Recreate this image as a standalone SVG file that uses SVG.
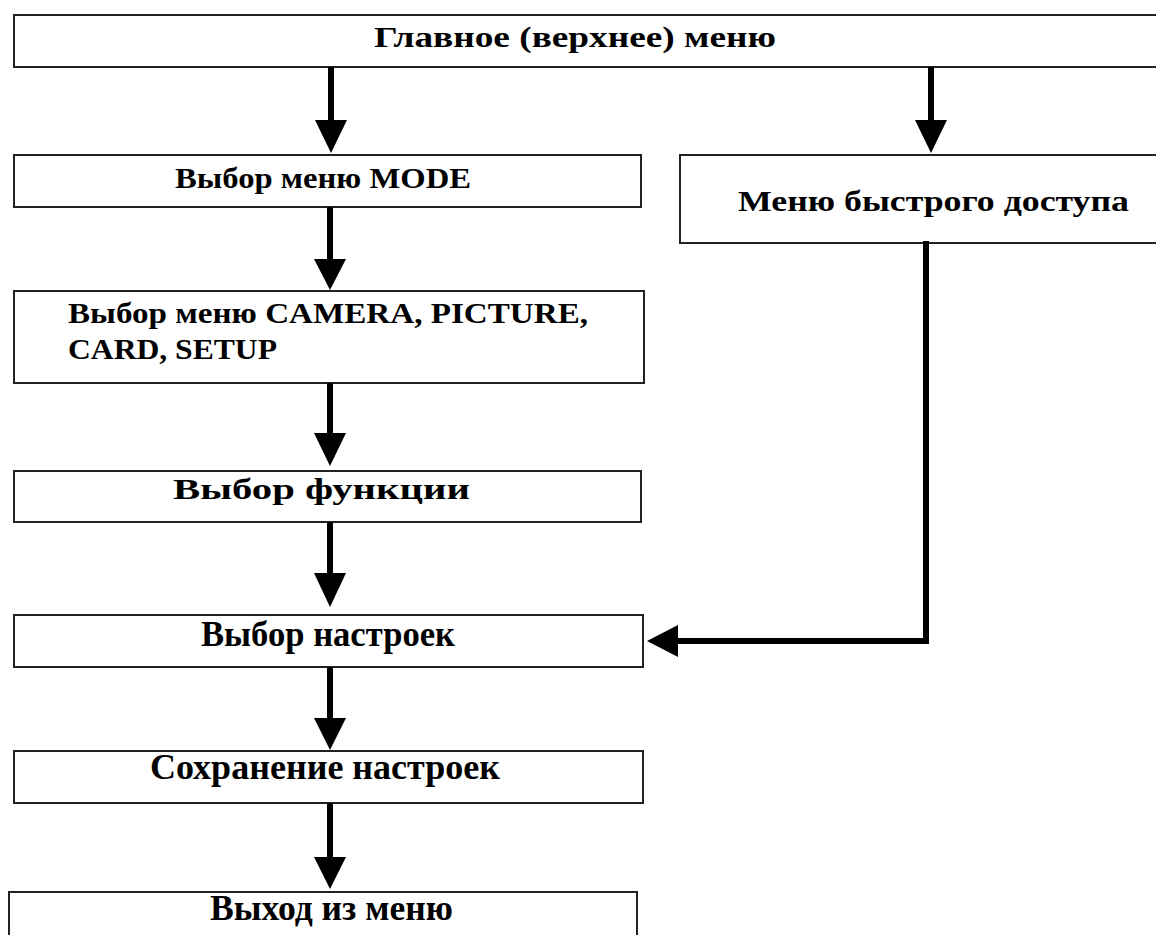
<svg xmlns="http://www.w3.org/2000/svg" width="1156" height="935" viewBox="0 0 1156 935">
  <style>
    .box { fill: #ffffff; stroke: #222222; stroke-width: 2; }
    .lbl { font-family: "Liberation Serif", "DejaVu Serif", serif; font-weight: bold; font-size: 30px; fill: #000000; }
    .tall { font-size: 35px; }
    .wire { fill: none; stroke: #000000; stroke-width: 6; }
    .head { fill: #000000; }
  </style>
  <rect width="1156" height="935" fill="#ffffff"/>

  <g id="main-menu">
    <rect class="box" x="14" y="15" width="1160" height="52"/>
    <text class="lbl" x="374" y="47" textLength="402" lengthAdjust="spacingAndGlyphs">Главное (верхнее) меню</text>
  </g>

  <g id="mode-menu">
    <rect class="box" x="14" y="155" width="627" height="52"/>
    <text class="lbl" x="175" y="188" textLength="296" lengthAdjust="spacingAndGlyphs">Выбор меню MODE</text>
  </g>

  <g id="quick-menu">
    <rect class="box" x="680" y="155" width="494" height="88"/>
    <text class="lbl" x="738" y="211" textLength="391" lengthAdjust="spacingAndGlyphs">Меню быстрого доступа</text>
  </g>

  <g id="submenu">
    <rect class="box" x="14" y="291" width="630" height="92"/>
    <text class="lbl" x="68" y="323" textLength="520" lengthAdjust="spacingAndGlyphs">Выбор меню CAMERA, PICTURE,</text>
    <text class="lbl" x="68" y="359" textLength="209" lengthAdjust="spacingAndGlyphs">CARD, SETUP</text>
  </g>

  <g id="function">
    <rect class="box" x="14" y="471" width="627" height="51"/>
    <text class="lbl" x="173" y="499" textLength="297" lengthAdjust="spacingAndGlyphs">Выбор функции</text>
  </g>

  <g id="settings">
    <rect class="box" x="14" y="615" width="629" height="52"/>
    <text class="lbl tall" x="201" y="646" textLength="254" lengthAdjust="spacingAndGlyphs">Выбор настроек</text>
  </g>

  <g id="save">
    <rect class="box" x="14" y="751" width="629" height="52"/>
    <text class="lbl tall" x="150" y="779" textLength="350" lengthAdjust="spacingAndGlyphs">Сохранение настроек</text>
  </g>

  <g id="exit">
    <rect class="box" x="9" y="892" width="628" height="60"/>
    <text class="lbl tall" x="210" y="920" textLength="243" lengthAdjust="spacingAndGlyphs">Выход из меню</text>
  </g>

  <g id="connectors">
    <!-- main menu -> MODE -->
    <line class="wire" x1="331" y1="67" x2="331" y2="122"/>
    <polygon class="head" points="315,120 347,120 331,153"/>
    <!-- main menu -> quick menu -->
    <line class="wire" x1="931" y1="67" x2="931" y2="122"/>
    <polygon class="head" points="915,120 947,120 931,153"/>
    <!-- MODE -> submenu -->
    <line class="wire" x1="330" y1="207" x2="330" y2="261"/>
    <polygon class="head" points="314,259 346,259 330,290"/>
    <!-- submenu -> function -->
    <line class="wire" x1="330" y1="383" x2="330" y2="435"/>
    <polygon class="head" points="314,433 346,433 330,466"/>
    <!-- function -> settings -->
    <line class="wire" x1="330" y1="522" x2="330" y2="575"/>
    <polygon class="head" points="314,573 346,573 330,607"/>
    <!-- settings -> save -->
    <line class="wire" x1="330" y1="667" x2="330" y2="720"/>
    <polygon class="head" points="314,718 346,718 330,750"/>
    <!-- save -> exit -->
    <line class="wire" x1="330" y1="803" x2="330" y2="859"/>
    <polygon class="head" points="314,857 346,857 330,889"/>
    <!-- quick menu -> settings -->
    <polyline class="wire" points="926,241 926,641 676,641"/>
    <polygon class="head" points="678,625 678,657 647,641"/>
  </g>
</svg>
